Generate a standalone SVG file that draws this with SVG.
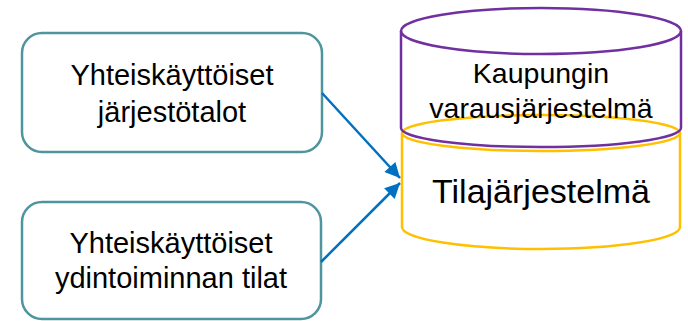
<svg xmlns="http://www.w3.org/2000/svg" width="688" height="321" viewBox="0 0 688 321">
<style>
.box{fill:#fff;stroke:#4F959E;stroke-width:2.5}
.t{font-family:"Liberation Sans",Arial,sans-serif;fill:#000;text-anchor:middle}
.conn{stroke:#0070C0;stroke-width:2.5;fill:none;marker-end:url(#ah)}
.purple{fill:none;stroke:#7030A0;stroke-width:2.5}
.yellow{fill:none;stroke:#FFC000;stroke-width:2.5}
</style>
<defs>
<marker id="ah" viewBox="0 0 10 10" refX="10" refY="5" markerWidth="7" markerHeight="6" markerUnits="strokeWidth" orient="auto">
<path d="M0,0 L10,5 L0,10 z" fill="#0070C0"/>
</marker>
</defs>
<g id="node-tilajarjestelma">
<path class="yellow" d="M402,133 L402,227 A139,22 0 0 0 680,227 L680,133"/>
<ellipse class="yellow" cx="541" cy="133" rx="139" ry="18"/>
<text class="t" x="541" y="203" font-size="34">Tilajärjestelmä</text>
</g>
<g id="node-varausjarjestelma">
<ellipse class="purple" cx="541" cy="31" rx="140" ry="23"/>
<path class="purple" d="M401,31 L401,128 A140,19 0 0 0 681,128 L681,31"/>
<text class="t" x="541" y="83" font-size="28.5">Kaupungin</text>
<text class="t" x="541" y="118" font-size="28.5">varausjärjestelmä</text>
</g>
<g id="node-jarjestotalot">
<rect class="box" x="22" y="33" width="300" height="119" rx="20"/>
<text class="t" x="172" y="85" font-size="29">Yhteiskäyttöiset</text>
<text class="t" x="172" y="122" font-size="29">järjestötalot</text>
</g>
<g id="node-ydintoiminnan">
<rect class="box" x="22" y="202" width="299" height="117" rx="20"/>
<text class="t" x="171" y="253" font-size="29">Yhteiskäyttöiset</text>
<text class="t" x="171" y="288" font-size="29">ydintoiminnan tilat</text>
</g>
<g id="connectors">
<line class="conn" x1="322" y1="93" x2="400" y2="178"/>
<line class="conn" x1="321" y1="262" x2="400" y2="183"/>
</g>
</svg>
